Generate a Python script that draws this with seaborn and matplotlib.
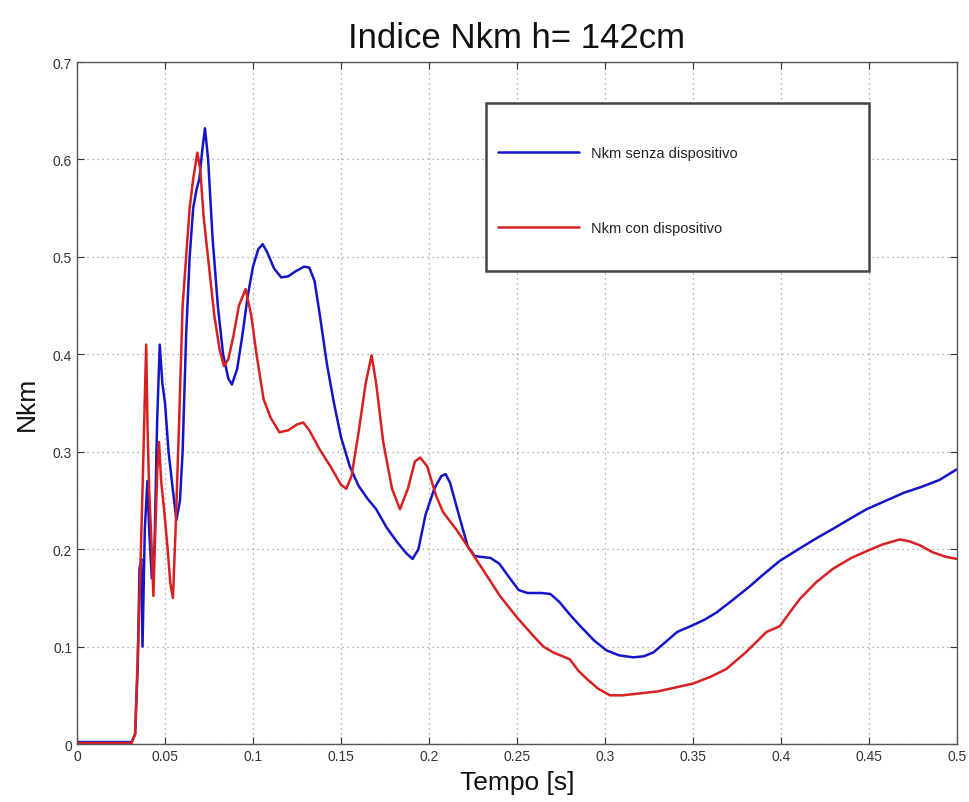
import numpy as np
import pandas as pd
import matplotlib
matplotlib.use("Agg")
import matplotlib.pyplot as plt
from matplotlib.patches import Rectangle
from matplotlib import font_manager
import seaborn as sns

# Nkm index over time, without the device (senza dispositivo)
t_senza = [0.000, 0.010, 0.020, 0.031, 0.033, 0.0345, 0.0355, 0.0365, 0.0372, 0.0385,
           0.0400, 0.0410, 0.0425, 0.0440, 0.0455, 0.0470, 0.0485, 0.0500, 0.0520, 0.0545,
           0.0565, 0.0585, 0.0600, 0.0620, 0.0640, 0.0660, 0.0680, 0.0695, 0.0712, 0.0727,
           0.0745, 0.0770, 0.0800, 0.0830, 0.0860, 0.0880, 0.0910, 0.0940, 0.0970, 0.1000,
           0.1030, 0.1055, 0.1080, 0.1120, 0.1160, 0.1200, 0.1240, 0.1290, 0.1320, 0.1350,
           0.1380, 0.1420, 0.1460, 0.1500, 0.1550, 0.1600, 0.1650, 0.1700, 0.1760, 0.1820,
           0.1870, 0.1907, 0.1940, 0.1980, 0.2030, 0.2070, 0.2095, 0.2120, 0.2170, 0.2220,
           0.2260, 0.2300, 0.2350, 0.2400, 0.2460, 0.2510, 0.2560, 0.2640, 0.2690, 0.2740,
           0.2800, 0.2860, 0.2940, 0.3010, 0.3080, 0.3160, 0.3220, 0.3275, 0.3340, 0.3410,
           0.3500, 0.3570, 0.3634, 0.3720, 0.3824, 0.3900, 0.3994, 0.4100, 0.4200, 0.4297,
           0.4400, 0.4487, 0.4600, 0.4700, 0.4800, 0.4900, 0.5000]
nkm_senza = [0.002, 0.002, 0.002, 0.002, 0.010, 0.080, 0.180, 0.190, 0.100, 0.220,
             0.270, 0.220, 0.170, 0.200, 0.330, 0.410, 0.370, 0.350, 0.300, 0.260,
             0.230, 0.250, 0.300, 0.420, 0.500, 0.550, 0.570, 0.580, 0.610, 0.632,
             0.600, 0.520, 0.450, 0.400, 0.375, 0.369, 0.385, 0.420, 0.460, 0.490,
             0.508, 0.513, 0.505, 0.488, 0.479, 0.480, 0.485, 0.490, 0.489, 0.475,
             0.440, 0.390, 0.350, 0.315, 0.285, 0.265, 0.252, 0.241, 0.222, 0.207,
             0.196, 0.190, 0.200, 0.235, 0.262, 0.275, 0.277, 0.268, 0.235, 0.203,
             0.193, 0.192, 0.191, 0.185, 0.170, 0.158, 0.155, 0.155, 0.154, 0.146,
             0.133, 0.121, 0.106, 0.096, 0.091, 0.089, 0.090, 0.094, 0.104, 0.115,
             0.122, 0.128, 0.135, 0.147, 0.162, 0.174, 0.188, 0.200, 0.211, 0.221,
             0.232, 0.241, 0.250, 0.258, 0.264, 0.271, 0.282]

# Nkm index over time, with the device (con dispositivo)
t_con = [0.000, 0.031, 0.033, 0.0345, 0.0360, 0.0372, 0.0383, 0.0393, 0.0400, 0.0410,
         0.0420, 0.0434, 0.0445, 0.0456, 0.0466, 0.0478, 0.0495, 0.0515, 0.0530, 0.0545,
         0.0560, 0.0580, 0.0600, 0.0620, 0.0640, 0.0660, 0.0684, 0.0700, 0.0720, 0.0750,
         0.0780, 0.0810, 0.0835, 0.0860, 0.0890, 0.0920, 0.0958, 0.0990, 0.1020, 0.1060,
         0.1100, 0.1150, 0.1200, 0.1250, 0.1286, 0.1320, 0.1380, 0.1440, 0.1500, 0.1530,
         0.1560, 0.1600, 0.1640, 0.1674, 0.1700, 0.1740, 0.1790, 0.1835, 0.1880, 0.1920,
         0.1950, 0.1990, 0.2040, 0.2080, 0.2160, 0.2230, 0.2328, 0.2403, 0.2500, 0.2593,
         0.2650, 0.2706, 0.2760, 0.2800, 0.2850, 0.2896, 0.2960, 0.3028, 0.3100, 0.3200,
         0.3300, 0.3400, 0.3500, 0.3600, 0.3690, 0.3800, 0.3918, 0.3994, 0.4050, 0.4108,
         0.4200, 0.4297, 0.4400, 0.4487, 0.4580, 0.4676, 0.4730, 0.4790, 0.4860, 0.4940,
         0.5000]
nkm_con = [0.001, 0.001, 0.010, 0.090, 0.180, 0.260, 0.340, 0.410, 0.330, 0.260,
           0.220, 0.152, 0.220, 0.280, 0.310, 0.270, 0.240, 0.200, 0.165, 0.150,
           0.220, 0.330, 0.450, 0.500, 0.550, 0.580, 0.607, 0.590, 0.540, 0.490,
           0.440, 0.405, 0.388, 0.395, 0.420, 0.450, 0.467, 0.440, 0.400, 0.354,
           0.335, 0.320, 0.322, 0.328, 0.330, 0.322, 0.302, 0.285, 0.266, 0.262,
           0.275, 0.320, 0.370, 0.399, 0.370, 0.310, 0.262, 0.241, 0.262, 0.290,
           0.294, 0.285, 0.255, 0.238, 0.219, 0.200, 0.173, 0.152, 0.130, 0.111,
           0.100, 0.094, 0.090, 0.087, 0.075, 0.067, 0.057, 0.050, 0.050, 0.052,
           0.054, 0.058, 0.062, 0.069, 0.077, 0.094, 0.115, 0.121, 0.135, 0.149,
           0.166, 0.180, 0.191, 0.198, 0.205, 0.210, 0.208, 0.204, 0.197, 0.192,
           0.190]

series_names = ["Nkm senza dispositivo", "Nkm con dispositivo"]
x_ticks = [0, 0.05, 0.1, 0.15, 0.2, 0.25, 0.3, 0.35, 0.4, 0.45, 0.5]
x_tick_labels = ["0", "0.05", "0.1", "0.15", "0.2", "0.25", "0.3", "0.35", "0.4", "0.45", "0.5"]
y_ticks = [0, 0.1, 0.2, 0.3, 0.4, 0.5, 0.6, 0.7]
y_tick_labels = ["0", "0.1", "0.2", "0.3", "0.4", "0.5", "0.6", "0.7"]

df = pd.concat([
    pd.DataFrame({"Tempo": t_senza, "Nkm": nkm_senza, "serie": series_names[0]}),
    pd.DataFrame({"Tempo": t_con, "Nkm": nkm_con, "serie": series_names[1]}),
], ignore_index=True)

sns.set_style("ticks")
installed = {f.name for f in font_manager.fontManager.ttflist}
narrow = "Liberation Sans Narrow" if "Liberation Sans Narrow" in installed else "Liberation Sans"
plt.rcParams["font.family"] = [narrow, "DejaVu Sans"]

fig = plt.figure(figsize=(9.69, 8.03), dpi=100)
ax = fig.add_axes([0.0795, 0.0722, 0.908, 0.8493])

palette = {series_names[0]: "#1414c8", series_names[1]: "#d82020"}
sns.lineplot(data=df, x="Tempo", y="Nkm", hue="serie", palette=palette,
             estimator=None, sort=False, linewidth=1.8, ax=ax)

ax.set_xlim(0, 0.5)
ax.set_ylim(0, 0.7)
ax.set_xticks(x_ticks)
ax.set_xticklabels(x_tick_labels)
ax.set_yticks(y_ticks)
ax.set_yticklabels(y_tick_labels)
ax.tick_params(direction="in", length=5, width=0.8, colors="#333333",
               labelsize=10, top=True, right=True, labelcolor="#333333")
ax.grid(True, linestyle=(0, (1, 3)), color="#9a9a9a", linewidth=0.9)
for side in ax.spines.values():
    side.set_color("#555555")
    side.set_linewidth(1.0)

ax.set_title("Indice Nkm h= 142cm", fontsize=25, pad=11, color="#111111")
ax.set_xlabel("Tempo [s]", fontsize=19, labelpad=5, color="#111111")
ax.set_ylabel("Nkm", fontsize=19, labelpad=10, color="#111111")

# legend box drawn as a plain rectangle, entries placed inside it
ax.add_patch(Rectangle((0.4648, 0.6935), 0.4352, 0.2463, transform=ax.transAxes,
                       facecolor="white", edgecolor="#444444", linewidth=1.8, zorder=4))
leg = ax.legend(loc="center left", bbox_to_anchor=(0.479, 0.8115),
                fontsize=10.5, handlelength=5.5, handletextpad=0.82,
                labelspacing=4.2, borderpad=0.0, borderaxespad=0.0, frameon=False)
leg.set_zorder(5)
for txt in leg.get_texts():
    txt.set_color("#222222")

fig.savefig("out.png", dpi=100)
